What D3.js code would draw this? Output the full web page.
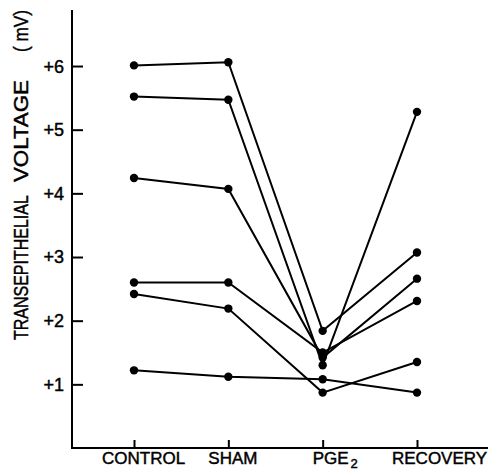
<!DOCTYPE html>
<html>
<head>
<meta charset="utf-8">
<script src="https://cdn.jsdelivr.net/npm/d3@7"></script>
<style>
  html, body { margin: 0; padding: 0; background: #fff; }
  svg { display: block; }
  text { font-family: "Liberation Sans", Arial, Helvetica, sans-serif; fill: #000; stroke: #000; stroke-width: 0.45px; }
</style>
</head>
<body>
<svg id="chart" width="490" height="474"></svg>
<script>
// ---- data ----
const categories = ["CONTROL", "SHAM", "PGE", "RECOVERY"];
const categorySubscripts = ["", "", "2", ""];
const yTickValues = [1, 2, 3, 4, 5, 6];
const yTickLabels = ["+1", "+2", "+3", "+4", "+5", "+6"];
const series1 = [6.01, 6.06, 1.84, 3.07];
const series2 = [5.52, 5.47, 1.30, 5.28];
const series3 = [4.24, 4.07, 1.42, 2.66];
const series4 = [2.60, 2.60, 1.50, 2.31];
const series5 = [2.42, 2.19, 0.87, 1.35];
const series6 = [1.22, 1.12, 1.08, 0.87];
const allSeries = [series1, series2, series3, series4, series5, series6];

// ---- layout ----
const svg = d3.select("#chart");
const axisX = 72, baseY = 448, topY = 10, rightX = 488;

const x = d3.scalePoint().domain(categories).range([134, 417]);
const y = d3.scaleLinear().domain([0, 6.88]).range([baseY, topY]);

// axes lines
svg.append("line").attr("x1", axisX).attr("x2", axisX).attr("y1", topY).attr("y2", baseY + 1)
  .attr("stroke", "#000").attr("stroke-width", 2);
svg.append("line").attr("x1", axisX - 1).attr("x2", rightX).attr("y1", baseY).attr("y2", baseY)
  .attr("stroke", "#000").attr("stroke-width", 2);

// y ticks (inward)
const yAxis = d3.axisRight(y).tickValues(yTickValues).tickSize(11).tickFormat("");
const gy = svg.append("g").attr("transform", `translate(${axisX},0)`).call(yAxis);
gy.select(".domain").remove();
gy.selectAll(".tick line").attr("stroke", "#000").attr("stroke-width", 2);

svg.selectAll("text.ylab").data(yTickValues).enter().append("text")
  .attr("class", "ylab")
  .attr("x", 64).attr("y", d => y(d)).attr("dy", "0.36em")
  .attr("text-anchor", "end").attr("font-size", 18)
  .text((d, i) => yTickLabels[i]);

// x ticks (upward)
const xAxis = d3.axisTop(x).tickSize(8).tickFormat("");
const gx = svg.append("g").attr("transform", `translate(0,${baseY})`).call(xAxis);
gx.select(".domain").remove();
gx.selectAll(".tick line").attr("stroke", "#000").attr("stroke-width", 2);

// x labels
const labelShift = [-32, -20, -10, -25];
const xl = svg.selectAll("text.xlab").data(categories).enter().append("text")
  .attr("class", "xlab")
  .attr("x", (d, i) => x(d) + labelShift[i]).attr("y", 463.5)
  .attr("font-size", 17);
xl.append("tspan").text(d => d);
xl.filter((d, i) => categorySubscripts[i] !== "")
  .append("tspan").attr("dx", 2).attr("dy", 4).attr("font-size", 13)
  .text((d) => categorySubscripts[categories.indexOf(d)]);

// y title (condensed lettering: scale each word along its baseline)
const titleParts = [
  { t: "TRANSEPITHELIAL", start: 340, len: 145 },
  { t: "VOLTAGE", start: 182, len: 102 },
  { t: "( mV)", start: 52, len: 42 }
];
titleParts.forEach(p => {
  const g = svg.append("g");
  const t = g.append("text").attr("font-size", 21).attr("x", 0).attr("y", 0).text(p.t);
  const w = t.node().getComputedTextLength();
  const sx = p.len / w;
  g.attr("transform", `translate(27.5,${p.start}) rotate(-90) scale(${sx},1)`);
});

// lines and points
const line = d3.line().x((d, i) => x(categories[i])).y(d => y(d));
svg.selectAll("path.series").data(allSeries).enter().append("path")
  .attr("class", "series")
  .attr("d", line).attr("fill", "none").attr("stroke", "#000").attr("stroke-width", 2);

allSeries.forEach(s => {
  svg.append("g").selectAll("circle").data(s).enter().append("circle")
    .attr("cx", (d, i) => x(categories[i])).attr("cy", d => y(d)).attr("r", 4.2)
    .attr("fill", "#000");
});
</script>
</body>
</html>
